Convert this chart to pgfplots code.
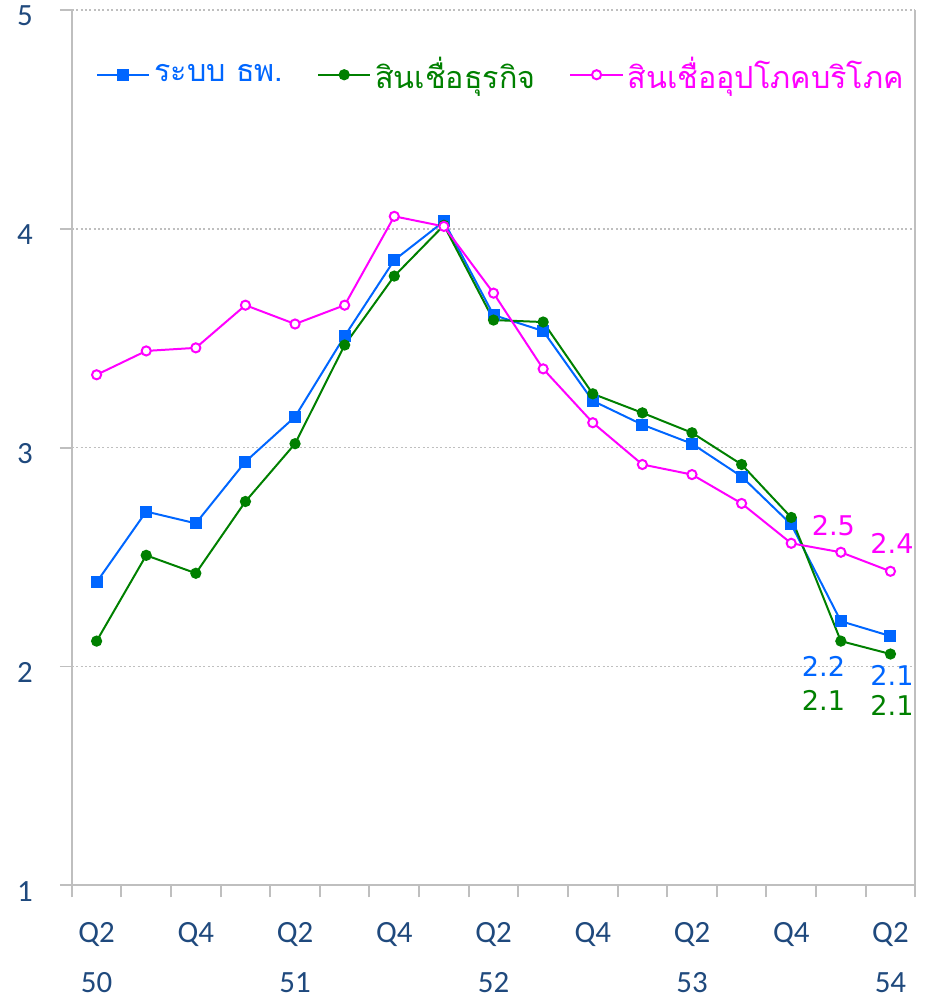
\documentclass[border=0pt]{standalone}
\usepackage{fontspec}
\usepackage{pgfplots}
\pgfplotsset{compat=1.18}
\setmainfont{Carlito}
\newfontfamily\thaifont[Script=Thai]{Loma}
\newfontfamily\labfont{DejaVu Sans}
\definecolor{cblue}{RGB}{0,102,255}
\definecolor{cgreen}{RGB}{0,128,0}
\definecolor{cmag}{RGB}{255,0,255}
\definecolor{ctick}{RGB}{31,73,125}
\definecolor{cax}{RGB}{191,191,191}

\begin{document}
\begin{tikzpicture}
\begin{axis}[
  scale only axis, width=423pt, height=439pt,
  xmin=-0.5, xmax=16.5, ymin=1, ymax=5,
  axis x line*=bottom, axis y line*=left,
  axis line style={cax, line width=1pt, -},
  tick align=outside, major tick length=6pt,
  tick style={cax, line width=1pt},
  xtick={-0.5,0.5,...,16.5}, xticklabels={},
  extra x ticks={0,2,...,16},
  extra x tick labels={Q2\\[6pt]50, Q4, Q2\\[6pt]51, Q4, Q2\\[6pt]52, Q4, Q2\\[6pt]53, Q4, Q2\\[6pt]54},
  extra x tick style={major tick length=0pt, grid=none},
  xticklabel style={align=center, font=\fontsize{15.5}{19}\selectfont, text=ctick, yshift=-15pt},
  ytick={1,2,3,4,5},
  /pgf/number format/assume math mode=true,
  yticklabel style={font=\fontsize{15.5}{19}\selectfont, text=ctick, xshift=-10pt, yshift=-3pt},
  ymajorgrids,
  y grid style={gray!50, line width=0.8pt, dash pattern=on 1pt off 1.2pt},
  legend style={draw=none, fill=none, at={(0.51,0.926)}, anchor=center,
    legend columns=3, font=\thaifont\fontsize{15.3}{19}\selectfont,
    /tikz/every even column/.append style={column sep=15pt}},
  legend cell align=left,
  legend image code/.code={\draw[mark repeat=2,mark phase=2,#1] plot coordinates {(0cm,0cm) (0.46cm,0cm) (0.92cm,0cm)};},
  clip=false,
]
\addplot[cblue, line width=1pt, mark=square*, mark size=2.5pt, mark options={solid}] coordinates {
(0,2.385) (1,2.708) (2,2.654) (3,2.936) (4,3.141) (5,3.510) (6,3.857) (7,4.034)
(8,3.606) (9,3.533) (10,3.214) (11,3.105) (12,3.018) (13,2.868) (14,2.649) (15,2.207) (16,2.139)};
\addlegendentry{\textcolor{cblue}{ระบบ ธพ.}}
\addplot[cgreen, line width=1pt, mark=*, mark size=2.3pt, mark options={solid}] coordinates {
(0,2.116) (1,2.508) (2,2.426) (3,2.754) (4,3.018) (5,3.469) (6,3.784) (7,4.016)
(8,3.583) (9,3.574) (10,3.246) (11,3.159) (12,3.068) (13,2.923) (14,2.681) (15,2.116) (16,2.057)};
\addlegendentry{\textcolor{cgreen}{สินเชื่อธุรกิจ}}
\addplot[cmag, line width=1pt, mark=*, mark size=2.3pt, mark options={solid, fill=white}] coordinates {
(0,3.333) (1,3.442) (2,3.456) (3,3.651) (4,3.565) (5,3.651) (6,4.057) (7,4.011)
(8,3.706) (9,3.360) (10,3.114) (11,2.923) (12,2.877) (13,2.745) (14,2.563) (15,2.522) (16,2.435)};
\addlegendentry{\textcolor{cmag}{สินเชื่ออุปโภคบริโภค}}
\draw[cax, line width=1pt] (rel axis cs:1,0) -- (rel axis cs:1,1);
\begin{scope}[font=\labfont\fontsize{13.6}{16}\selectfont]
\node[text=cmag] at (axis cs:14.85,2.645) {2.5};
\node[text=cmag] at (axis cs:16.03,2.563) {2.4};
\node[text=cblue] at (axis cs:14.65,2.002) {2.2};
\node[text=cblue] at (axis cs:16.03,1.961) {2.1};
\node[text=cgreen] at (axis cs:14.65,1.843) {2.1};
\node[text=cgreen] at (axis cs:16.03,1.820) {2.1};
\end{scope}
\coordinate (bl) at (rel axis cs:0,0);
\coordinate (tr) at (rel axis cs:1,1);
\end{axis}
\pgfresetboundingbox
\path ([shift={(-36pt,-58pt)}]bl) rectangle ([shift={(5pt,5pt)}]tr);
\end{tikzpicture}
\end{document}
